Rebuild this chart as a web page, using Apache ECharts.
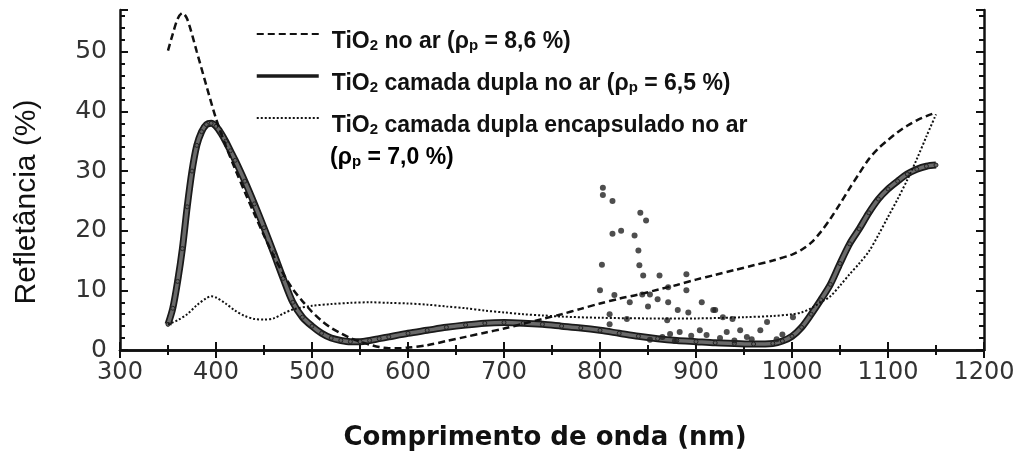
<!DOCTYPE html>
<html>
<head>
<meta charset="utf-8">
<script src="https://cdn.jsdelivr.net/npm/echarts@6/dist/echarts.min.js"></script>
<style>
  html, body { margin: 0; padding: 0; background: #fff; }
  #chart { width: 1023px; height: 456px; }
</style>
</head>
<body>
<div id="chart"></div>
<script>
// TiO2 no ar (tracejado)
var dashWl = [350,355,360,365,370,380,390,400,410,420,430,440,450,460,470,480,490,500,510,520,530,540,550,560,570,580,590,600,
  620,640,660,680,700,720,740,760,780,800,820,840,860,880,900,920,940,960,980,1000,
  1010,1020,1030,1040,1050,1060,1070,1080,1090,1100,1110,1120,1130,1140,1150];
var dashR = [50.2,53,55.5,56.5,55.5,50,44.3,38.8,34.3,30.3,26.5,22.8,19.2,15.8,12.8,10.2,8.2,6.4,4.9,3.7,2.8,2,1.4,0.9,0.5,0.3,0.3,0.4,
  0.8,1.5,2.2,2.9,3.6,4.4,5.2,6,6.9,7.8,8.6,9.3,10.1,10.9,11.8,12.6,13.4,14.2,15,16,
  16.8,18,19.8,22,24.5,27.1,29.6,32,33.8,35.2,36.5,37.6,38.5,39.2,39.8];

// TiO2 camada dupla no ar (contínuo)
var duplaWl = [350,355,360,365,370,375,380,385,390,395,400,405,410,415,420,
  430,440,450,460,470,480,490,500,510,520,530,540,550,560,570,580,
  600,620,640,660,680,700,720,740,760,780,800,820,840,860,880,900,920,940,960,980,
  990,1000,1010,1020,1030,1040,1050,1060,1070,1080,1090,1100,1110,1120,1130,1140,1150];
var duplaR = [4.3,7,11.5,17,24,30,34.3,36.6,37.8,38,37.5,36.4,35,33.4,31.8,
  28.3,24.5,20.5,16.3,12,8,5.5,4,2.8,2,1.6,1.4,1.4,1.6,1.9,2.2,
  2.8,3.3,3.8,4.2,4.5,4.6,4.5,4.3,4,3.7,3.3,2.8,2.3,1.9,1.6,1.4,1.2,1.1,1,1.1,
  1.5,2.3,3.8,6,8.4,11,14.5,17.8,20.3,23,25.3,27,28.3,29.5,30.3,30.8,31];

// pontos dispersos da camada dupla
var noiseWl = [803,803,813,813,822,802,842,848,836,840,841,845,862,890,890,871,800,815,831,844,
  852,860,871,850,906,920,881,892,870,828,810,810,928,938,974,1001,946,967,932,904,
  911,883,873,852,953,984,918,865,895,925,958,990,878,940];
var noiseR = [27.2,26,25,19.5,20,14.3,23,21.7,19.2,16.7,14.2,12.5,12.5,12.7,10,10.5,10,9.2,8,9.3,
  9.3,8.5,8,7.3,8,6.7,6.7,6.3,5,5.2,4.3,6,5.5,5.2,4.7,5.5,3.3,3.3,3,3.3,
  2.5,3,2.7,1.7,2.2,1.8,6.7,2.2,2.4,2,1.8,2.6,1.5,1.6];

// TiO2 camada dupla encapsulado no ar (pontilhado)
var encWl = [350,360,370,380,390,395,400,410,420,430,440,450,460,470,480,
  500,520,540,560,580,600,620,640,660,680,700,720,740,760,
  800,850,900,950,980,1000,1010,1020,1030,1040,1050,1060,1070,1080,1090,1100,1110,1120,1130,1140,1150];
var encR = [4.3,5,6,7.5,8.7,9,8.8,7.8,6.6,5.7,5.2,5.1,5.3,6.1,6.8,
  7.4,7.7,7.9,8,7.9,7.8,7.6,7.3,7,6.6,6.3,6,5.8,5.6,
  5.4,5.3,5.3,5.5,5.7,6,6.3,7,8,9,10.8,12.7,14.5,16.5,19.3,22.3,25.3,28.5,32,35.8,39.5];

var legendNames = {
  semCamada: '{b|TiO}{s|2}{b| no ar (ρ}{s|p}{b| = 8,6 %)}',
  dupla: '{b|TiO}{s|2}{b| camada dupla no ar (ρ}{s|p}{b| = 6,5 %)}',
  encapsulado: '{b|TiO}{s|2}{b| camada dupla encapsulado no ar}'
};

function pairs(xs, ys) {
  return xs.map(function (x, i) { return [x, ys[i]]; });
}

var font = 'Liberation Sans, Arial, sans-serif';
var richText = {
  b: { fontSize: 23, fontWeight: 'bold', fontFamily: font, color: '#111', lineHeight: 24, padding: [8, 0, 8, 0], verticalAlign: 'top' },
  s: { fontSize: 15, fontWeight: 'bold', fontFamily: font, color: '#111', lineHeight: 24, padding: [16, 0, 0, 0], verticalAlign: 'top' }
};

var myChart = echarts.init(document.getElementById('chart'));

var option = {
  animation: false,
  backgroundColor: '#fff',
  grid: { left: 120, right: 39, top: 10, bottom: 104 },
  legend: {
    orient: 'vertical',
    left: 255,
    top: 22,
    padding: 0,
    itemWidth: 62,
    itemHeight: 14,
    itemGap: 3,
    itemStyle: { opacity: 0 },
    data: [
      { name: 'semCamada' },
      { name: 'dupla', lineStyle: { width: 3.5 } },
      { name: 'encapsulado' }
    ],
    formatter: function (name) { return legendNames[name]; },
    textStyle: { rich: richText, padding: [0, 0, 0, 8] }
  },
  graphic: [{
    type: 'text',
    left: 330,
    top: 138,
    style: {
      text: '{b|(ρ}{s|p}{b| = 7,0 %)}',
      rich: richText
    }
  }],
  xAxis: [{
    type: 'value',
    min: 300, max: 1200, interval: 100,
    name: 'Comprimento de onda (nm)',
    nameLocation: 'middle',
    nameGap: 75,
    nameTextStyle: { fontSize: 26, fontWeight: 'bold', fontFamily: 'DejaVu Sans', color: '#111', padding: [0, 14, 0, 0] },
    axisLine: { show: true, lineStyle: { color: '#111', width: 2.5 } },
    axisTick: { show: true, inside: true, length: 8, lineStyle: { color: '#111', width: 2 } },
    minorTick: { show: true, splitNumber: 2, length: 5, lineStyle: { color: '#111', width: 2 } },
    axisLabel: { fontSize: 24, fontFamily: 'DejaVu Sans', color: '#333', margin: 11,
      formatter: function (v) { return String(v); } },
    splitLine: { show: false }
  }, {
    type: 'value', position: 'top',
    min: 300, max: 1200, interval: 100,
    axisLine: { show: true, lineStyle: { color: '#111', width: 2.5 } },
    axisTick: { show: true, inside: true, length: 8, lineStyle: { color: '#111', width: 2 } },
    minorTick: { show: true, splitNumber: 2, length: 5, lineStyle: { color: '#111', width: 2 } },
    axisLabel: { show: false },
    splitLine: { show: false }
  }],
  yAxis: [{
    type: 'value',
    min: 0, max: 57, interval: 10,
    name: 'Refletância (%)',
    nameLocation: 'middle',
    nameGap: 78,
    nameTextStyle: { fontSize: 30, fontFamily: font, color: '#111', padding: [0, 44, 0, 0] },
    axisLine: { show: true, lineStyle: { color: '#111', width: 2.5 } },
    axisTick: { show: true, inside: true, length: 8, lineStyle: { color: '#111', width: 2 } },
    minorTick: { show: true, splitNumber: 5, length: 5, lineStyle: { color: '#111', width: 2 } },
    axisLabel: { fontSize: 25, fontFamily: 'DejaVu Sans', color: '#333', margin: 13, showMaxLabel: false,
      formatter: function (v) { return v % 10 === 0 ? String(v) : ''; } },
    splitLine: { show: false }
  }, {
    type: 'value', position: 'right',
    min: 0, max: 57, interval: 10,
    axisLine: { show: true, lineStyle: { color: '#111', width: 2.5 } },
    axisTick: { show: true, inside: true, length: 8, lineStyle: { color: '#111', width: 2 } },
    minorTick: { show: true, splitNumber: 5, length: 5, lineStyle: { color: '#111', width: 2 } },
    axisLabel: { show: false },
    splitLine: { show: false }
  }],
  series: [
    {
      name: 'semCamada',
      type: 'line',
      smooth: 0.3,
      symbol: 'none',
      color: '#111',
      lineStyle: { color: '#111', width: 2.5, type: [7, 4] },
      data: pairs(dashWl, dashR),
      z: 4
    },
    {
      name: 'dupla',
      type: 'line',
      smooth: 0.3,
      symbol: 'none',
      color: '#111',
      lineStyle: { color: '#1a1a1a', width: 7 },
      data: pairs(duplaWl, duplaR),
      z: 2
    },
    {
      name: 'duplaCentro',
      type: 'line',
      smooth: 0.3,
      symbol: 'circle',
      symbolSize: 4,
      showAllSymbol: true,
      itemStyle: { color: '#666', borderColor: '#222', borderWidth: 1 },
      lineStyle: { color: '#6a6a6a', width: 3.5 },
      data: pairs(duplaWl, duplaR),
      z: 3
    },
    {
      name: 'duplaPontos',
      type: 'scatter',
      symbolSize: 6,
      itemStyle: { color: '#222' },
      data: pairs(noiseWl, noiseR),
      z: 3
    },
    {
      name: 'encapsulado',
      type: 'line',
      smooth: 0.3,
      symbol: 'none',
      color: '#111',
      lineStyle: { color: '#111', width: 2, type: [2, 2] },
      data: pairs(encWl, encR),
      z: 4
    }
  ]
};
myChart.setOption(option);
</script>
</body>
</html>
